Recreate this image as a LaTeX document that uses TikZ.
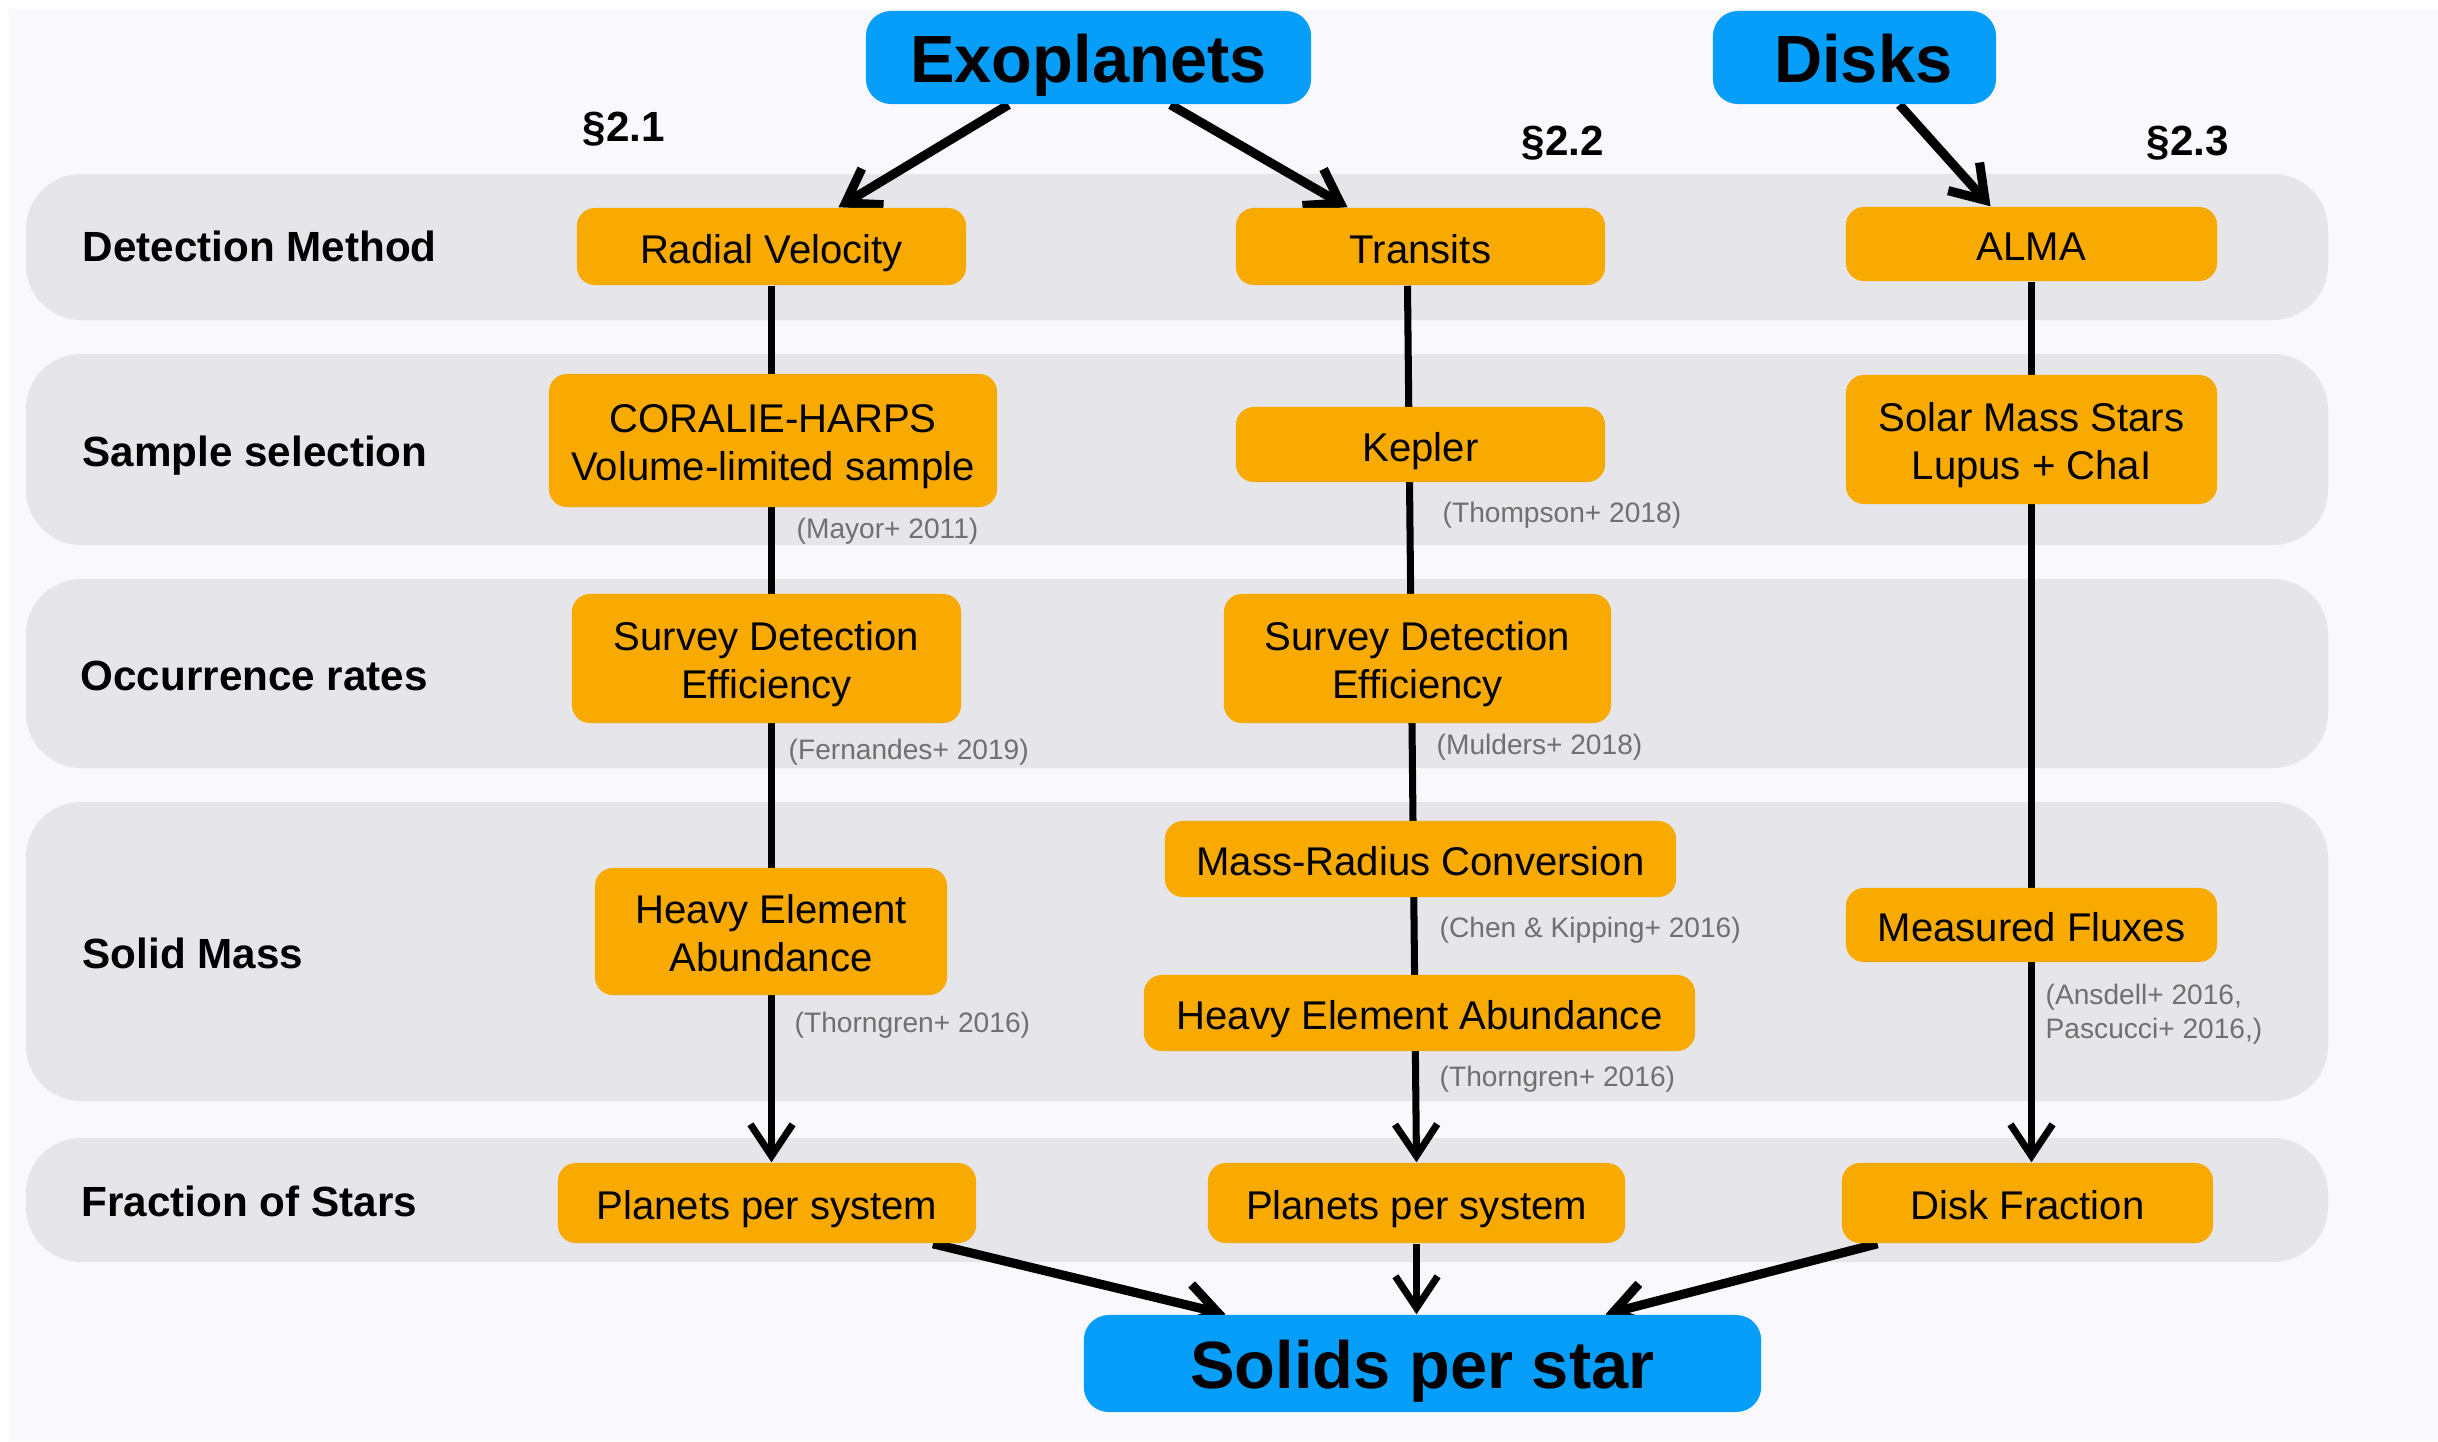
\documentclass[tikz,border=0pt]{standalone}
\usepackage{fontspec}
\setmainfont{Liberation Sans}
\usetikzlibrary{arrows.meta,calc}
\definecolor{bgc}{HTML}{F9F9FD}
\definecolor{bandc}{HTML}{E5E5EA}
\definecolor{bluec}{HTML}{069EF9}
\definecolor{orangec}{HTML}{F9AA00}
\definecolor{citec}{HTML}{707070}
\pgfdeclarelayer{bands}
\pgfdeclarelayer{links}
\pgfsetlayers{bands,links,main}
\newcommand{\twolines}[2]{\raisebox{-1.8pt}[\height][\depth]{\begin{tabular}{@{}c@{}}#1\\#2\end{tabular}}}
\begin{document}
\begin{tikzpicture}[x=0.01cm,y=-0.01cm,
  bigbox/.style={fill=bluec, rounded corners=0.25cm, font=\fontsize{19}{23}\selectfont\bfseries, inner sep=0pt, text height=14pt, text depth=0pt},
  obox/.style={fill=orangec, rounded corners=0.18cm, font=\fontsize{11.4}{13.7}\selectfont, inner sep=0pt},
  oneline/.style={text height=9.6pt, text depth=0pt},
  rowlabel/.style={anchor=west, font=\fontsize{12}{14}\selectfont\bfseries, inner sep=0pt, text height=8.8pt, text depth=0pt},
  sect/.style={font=\fontsize{12}{14}\selectfont\bfseries, inner sep=0pt},
  cite/.style={anchor=west, text=citec, font=\fontsize{8}{9.7}\selectfont, align=left, inner sep=0pt, yshift=-1pt},
  link/.style={line width=2pt},
  dlink/.style={line width=2.6pt},
  arr/.style={-{Straight Barb[length=9pt,width=12pt]}},
]
\useasboundingbox (0,0) rectangle (2438,1441);

% blue boxes
\node[bigbox, minimum width=4.45cm, minimum height=0.93cm] (exo) at (1088.5,57.5) {Exoplanets};
\node[bigbox, minimum width=2.83cm, minimum height=0.93cm] (disks) at (1854.5,57.5) {\hspace{5pt}Disks};
\node[bigbox, minimum width=6.77cm, minimum height=0.97cm] (solids) at (1422.5,1363.5) {Solids per star};

% column 1
\node[obox, oneline, minimum width=3.89cm, minimum height=0.77cm] (rv) at (771.5,246.5) {Radial Velocity};
\node[obox, minimum width=4.48cm, minimum height=1.33cm] (coralie) at (773,440.5) {\twolines{CORALIE-HARPS}{Volume-limited sample}};
\node[obox, minimum width=3.89cm, minimum height=1.29cm] (sde1) at (766.5,658.5) {\twolines{Survey Detection}{Efficiency}};
\node[obox, minimum width=3.52cm, minimum height=1.27cm] (hea1) at (771,931.5) {\twolines{Heavy Element}{Abundance}};
\node[obox, oneline, minimum width=4.18cm, minimum height=0.80cm] (pps1) at (767,1203) {Planets per system};

% column 2
\node[obox, oneline, minimum width=3.69cm, minimum height=0.77cm] (transits) at (1420.5,246.5) {Transits};
\node[obox, oneline, minimum width=3.69cm, minimum height=0.75cm] (kepler) at (1420.5,444.5) {Kepler};
\node[obox, minimum width=3.87cm, minimum height=1.29cm] (sde2) at (1417.5,658.5) {\twolines{Survey Detection}{Efficiency}};
\node[obox, oneline, minimum width=5.11cm, minimum height=0.76cm] (mrc) at (1420.5,859) {Mass-Radius Conversion};
\node[obox, oneline, minimum width=5.51cm, minimum height=0.76cm] (hea2) at (1419.5,1013) {Heavy Element Abundance};
\node[obox, oneline, minimum width=4.17cm, minimum height=0.80cm] (pps2) at (1416.5,1203) {Planets per system};

% column 3
\node[obox, oneline, minimum width=3.71cm, minimum height=0.74cm] (alma) at (2031.5,244) {ALMA};
\node[obox, minimum width=3.71cm, minimum height=1.29cm] (solar) at (2031.5,439.5) {\twolines{Solar Mass Stars}{Lupus + ChaI}};
\node[obox, oneline, minimum width=3.71cm, minimum height=0.74cm] (mf) at (2031.5,925) {Measured Fluxes};
\node[obox, oneline, minimum width=3.71cm, minimum height=0.80cm] (df) at (2027.5,1203) {Disk Fraction};

% row labels
\node[rowlabel] (l1) at (82,246) {Detection Method};
\node[rowlabel] (l2) at (82,451) {Sample selection};
\node[rowlabel] (l3) at (80,675) {Occurrence rates};
\node[rowlabel] (l4) at (82,953) {Solid Mass};
\node[rowlabel] (l5) at (81,1201) {Fraction of Stars};

% section labels
\node[sect] (s1) at (624,129) {§2.1};
\node[sect] (s2) at (1563,143) {§2.2};
\node[sect] (s3) at (2188,143) {§2.3};

% citations
\node[cite] (c1) at (796,528) {(Mayor+ 2011)};
\node[cite] (c2) at (1442,512) {(Thompson+ 2018)};
\node[cite] (c3) at (788,749) {(Fernandes+ 2019)};
\node[cite] (c4) at (1436,744) {(Mulders+ 2018)};
\node[cite] (c5) at (1439,927) {(Chen \& Kipping+ 2016)};
\node[cite] (c6) at (794,1022) {(Thorngren+ 2016)};
\node[cite] (c7) at (1439,1076) {(Thorngren+ 2016)};
\node[cite] (c8) at (2045,1011) {(Ansdell+ 2016,\\Pascucci+ 2016,)};

\begin{pgfonlayer}{bands}
  \fill[white] (0,0) rectangle (2438,1441);
  \fill[bgc] (9,9) rectangle (2438,1441);
  \fill[bandc, rounded corners=0.55cm] (26,174) rectangle (2328,320);
  \fill[bandc, rounded corners=0.55cm] (26,354) rectangle (2328,545);
  \fill[bandc, rounded corners=0.55cm] (26,579) rectangle (2328,768);
  \fill[bandc, rounded corners=0.55cm] (26,802) rectangle (2328,1101);
  \fill[bandc, rounded corners=0.55cm] (26,1138) rectangle (2328,1262);
\end{pgfonlayer}

\begin{pgfonlayer}{links}
  \draw[link,arr] (rv.south) -- (rv.south |- pps1.north);
  \draw[link,arr] ($(transits.south)+(-13,0)$) -- (pps2.north);
  \draw[link,arr] (alma.south) -- (alma.south |- df.north);
  \draw[dlink,arr] ($(exo.south)+(-80,0)$) -- ($(rv.north)+(67,0)$);
  \draw[dlink,arr] ($(exo.south)+(82,0)$) -- ($(transits.north)+(-73,0)$);
  \draw[dlink,arr] ($(disks.south)+(45,0)$) -- ($(alma.north)+(-41,0)$);
  \draw[dlink,arr] ($(pps1.south)+(166,0)$) -- ($(solids.north)+(-197,0)$);
  \draw[link,arr] (pps2.south) -- (pps2.south |- solids.north);
  \draw[dlink,arr] ($(df.south)+(-150,0)$) -- ($(solids.north)+(183,0)$);
\end{pgfonlayer}
\end{tikzpicture}
\end{document}
